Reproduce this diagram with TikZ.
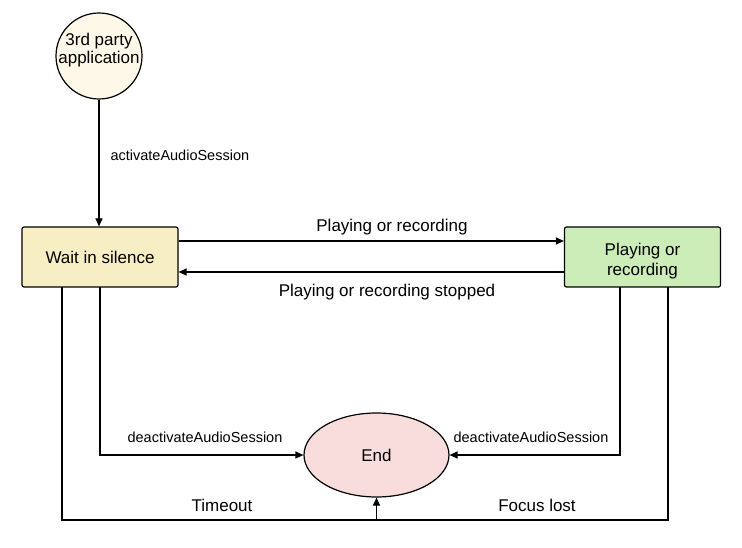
\documentclass[tikz,border=0pt]{standalone}
\usepackage{fontspec}
\setmainfont{Liberation Sans}
\usetikzlibrary{shapes.geometric,arrows.meta}
\definecolor{circfill}{HTML}{FDF8E8}
\definecolor{waitfill}{HTML}{F7EEC3}
\definecolor{playfill}{HTML}{CDEDB8}
\definecolor{endfill}{HTML}{F9DDDD}
\tikzset{
  statebox/.style={draw, line width=1.2pt, rounded corners=2pt, minimum width=156pt, minimum height=60pt, align=center, font=\fontsize{17}{20}\selectfont},
  conn/.style={line width=1.2pt, -{Triangle[length=8pt,width=7pt]}},
  plain/.style={line width=1.2pt},
  biglabel/.style={font=\fontsize{17}{20}\selectfont},
  smalllabel/.style={font=\fontsize{14.5}{17}\selectfont},
}
\begin{document}
\begin{tikzpicture}[x=1pt,y=-1pt]
\useasboundingbox (0,0) rectangle (742,548);
\node[circle, draw, line width=1.2pt, fill=circfill, minimum size=86pt, inner sep=0pt] (app) at (99,56) {};
\node[align=center, font=\fontsize{17}{18.5}\selectfont] (apptext) at (99,50) {3rd party\\application};
\node[statebox, fill=waitfill] (wait) at (100,257) {Wait in silence};
\node[statebox, fill=playfill] (play) at (642.5,257) {};
\node[align=center, font=\fontsize{17}{20}\selectfont] (playtext) at (642.5,261) {Playing or\\recording};
\node[ellipse, draw, line width=1.2pt, fill=endfill, minimum width=145pt, minimum height=84pt, font=\fontsize{17}{20}\selectfont] (end) at (376.5,455) {End};

\coordinate (w1) at (62,287);
\coordinate (w2) at (100,287);
\coordinate (p1) at (620,287);
\coordinate (p2) at (668,287);

\draw[conn] (app.south) -- (app.south |- wait.north);
\node[smalllabel, anchor=west] (alab) at (107,155) {activateAudioSession};
\draw[conn] (wait.east |- 0,241) -- (play.west |- 0,241);
\node[biglabel] (prlab) at (392,227) {Playing or recording};
\draw[conn] (play.west |- 0,272) -- (wait.east |- 0,272);
\node[biglabel] (pslab) at (387,292) {Playing or recording stopped};

\draw[conn] (w2) |- (end.west);
\node[smalllabel] (dl) at (205,437) {deactivateAudioSession};
\draw[conn] (p1) |- (end.east);
\node[smalllabel] (dr) at (531,437) {deactivateAudioSession};

\draw[plain] (w1) -- (62,520) -- (668,520) -- (p2);
\coordinate (bot) at (376.5,520);
\draw[conn] (bot) -- (end.south);
\node[biglabel] (tlab) at (222,505) {Timeout};
\node[biglabel] (flab) at (537,505) {Focus lost};
\end{tikzpicture}
\end{document}
